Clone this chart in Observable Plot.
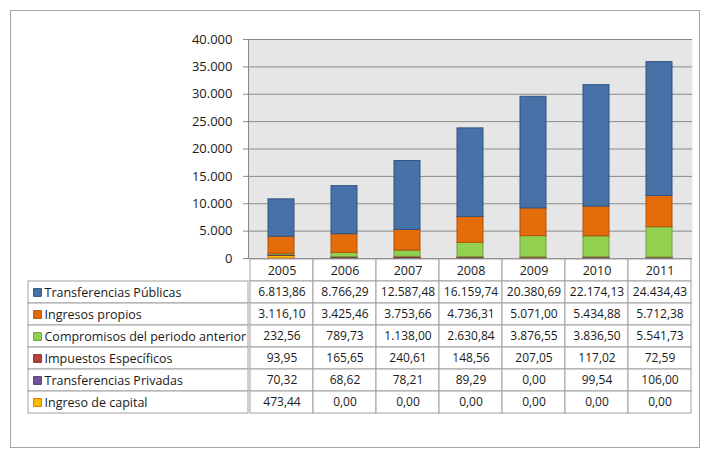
<!DOCTYPE html>
<html>
<head>
<meta charset="utf-8">
<script src="https://cdn.jsdelivr.net/npm/d3@7"></script>
<script src="https://cdn.jsdelivr.net/npm/@observablehq/plot@0.6"></script>
<style>
  body { margin: 0; background: white; }
  #wrap { position: relative; width: 710px; height: 461px; background: white; overflow: hidden; }
  #wrap svg { display: block; }
  #frame { position: absolute; left: 10px; top: 10px; width: 688px; height: 436px; border: 1.5px solid #a6a6a6; pointer-events: none; }
</style>
</head>
<body>
<div id="wrap"><div id="frame"></div></div>
<script>
// ---- data ----
const years = ["2005", "2006", "2007", "2008", "2009", "2010", "2011"];
const seriesNames = [
  "Transferencias Públicas",
  "Ingresos propios",
  "Compromisos del periodo anterior",
  "Impuestos Específicos",
  "Transferencias Privadas",
  "Ingreso de capital"
];
const transferenciasPublicas = [6813.86, 8766.29, 12587.48, 16159.74, 20380.69, 22174.13, 24434.43];
const ingresosPropios = [3116.10, 3425.46, 3753.66, 4736.31, 5071.00, 5434.88, 5712.38];
const compromisosAnterior = [232.56, 789.73, 1138.00, 2630.84, 3876.55, 3836.50, 5541.73];
const impuestosEspecificos = [93.95, 165.65, 240.61, 148.56, 207.05, 117.02, 72.59];
const transferenciasPrivadas = [70.32, 68.62, 78.21, 89.29, 0.00, 99.54, 106.00];
const ingresoCapital = [473.44, 0.00, 0.00, 0.00, 0.00, 0.00, 0.00];
const yTicks = [0, 5000, 10000, 15000, 20000, 25000, 30000, 35000, 40000];
const seriesColors = ["#4672a8", "#e46c0a", "#92d050", "#b7413e", "#70539b", "#ffc000"];
const seriesStrokes = ["#2f5383", "#b05308", "#6f9e3c", "#8a2f2d", "#523b75", "#e36c09"];

// ---- build tables ----
const valueArrays = [transferenciasPublicas, ingresosPropios, compromisosAnterior, impuestosEspecificos, transferenciasPrivadas, ingresoCapital];
const rows = [];
seriesNames.forEach((s, si) => years.forEach((y, yi) => rows.push({series: s, si, year: y, value: valueArrays[si][yi]})));
// stack bottom-first: reverse of table order
const stackRows = seriesNames.slice().reverse().flatMap(s => rows.filter(r => r.series === s));

const es = d3.formatLocale({decimal: ",", thousands: ".", grouping: [3], currency: ["", "€"]});
const fmtInt = es.format(",d");
const fmtVal = es.format(",.2f");
const colorOf = Object.fromEntries(seriesNames.map((s, i) => [s, seriesColors[i]]));
const strokeOf = Object.fromEntries(seriesNames.map((s, i) => [s, seriesStrokes[i]]));

const font = {fontFamily: "'Open Sans', sans-serif", fontSize: "12.5px", color: "#1a1a1a", background: "transparent", overflow: "visible"};
const W = 710, mL = 248, mR = 18;

// ---- chart ----
const chart = Plot.plot({
  width: W, height: 258,
  marginTop: 39, marginBottom: 0, marginLeft: mL, marginRight: mR,
  style: font,
  x: {domain: years, paddingInner: 0.59, paddingOuter: 0.295, axis: null},
  y: {domain: [0, 40000], axis: null},
  marks: [
    Plot.frame({fill: "#e6e6e6", stroke: null}),
    Plot.ruleY(yTicks, {stroke: "#8a8a8a", strokeWidth: 1}),
    Plot.axisY({ticks: yTicks, tickSize: 5, tickPadding: 11, tickFormat: fmtInt, stroke: "#8a8a8a", label: null, fill: "#1a1a1a", fontSize: 13}),
    Plot.frame({anchor: "left", stroke: "#8a8a8a"}),
    Plot.barY(stackRows, {x: "year", y: "value", fill: d => colorOf[d.series], stroke: d => strokeOf[d.series], strokeWidth: 1})
  ]
});

// ---- table ----
const tableRows = ["hdr", ...seriesNames];
const table = Plot.plot({
  width: W, height: 203,
  marginTop: 0, marginBottom: 47, marginLeft: mL, marginRight: mR,
  style: font,
  x: {domain: years, padding: 0, axis: null},
  y: {domain: tableRows, padding: 0, axis: null},
  marks: [
    Plot.cell(years, {x: d => d, y: () => "hdr", fill: "white", stroke: "#a0a0a0"}),
    Plot.cell(rows, {x: "year", y: "series", fill: "white", stroke: "#a0a0a0"}),
    Plot.cell(seriesNames, {y: d => d, insetLeft: -220, insetRight: 444, fill: "white", stroke: "#a0a0a0"}),
    Plot.text(years, {x: d => d, y: () => "hdr", text: d => d, fill: "#1a1a1a", fontSize: 12.5}),
    Plot.text(rows, {x: "year", y: "series", text: d => fmtVal(d.value), fill: "#1a1a1a", fontSize: 12}),
    Plot.dot(seriesNames, {y: d => d, frameAnchor: "left", dx: -211, symbol: "square", r: 4.4, fill: d => colorOf[d], stroke: d => strokeOf[d], strokeWidth: 1}),
    Plot.text(seriesNames, {y: d => d, text: d => d, frameAnchor: "left", dx: -204, textAnchor: "start", fill: "#1a1a1a", fontSize: 12.5})
  ]
});

const wrap = document.getElementById("wrap");
wrap.insertBefore(table, wrap.firstChild);
wrap.insertBefore(chart, wrap.firstChild);
</script>
</body>
</html>
